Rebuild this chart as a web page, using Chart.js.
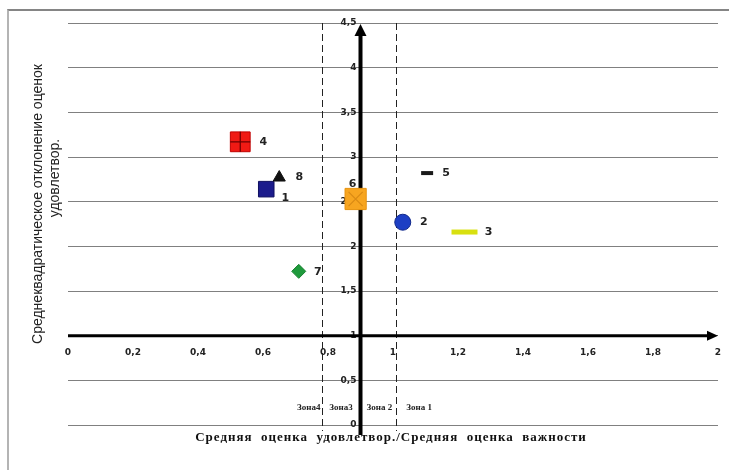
<!DOCTYPE html>
<html><head><meta charset="utf-8">
<script src="https://cdn.jsdelivr.net/npm/chart.js@4"></script>
<style>
html,body{margin:0;padding:0;background:#fff;}
#wrap{position:relative;width:729px;height:470px;overflow:hidden;background:#fff;}
#frame{position:absolute;left:7px;top:9px;width:760px;height:500px;border-left:2px solid #b4b4b4;border-top:2px solid #858585;}
canvas{position:absolute;left:0;top:0;}
</style></head><body>
<div id="wrap"><div id="frame"></div><canvas id="c" width="729" height="470"></canvas></div>
<script>
// ---- data ----
const pointLabels = ['1', '2', '3', '4', '5', '6', '7', '8'];
const xValues = [0.61, 1.03, 1.22, 0.53, 1.105, 0.885, 0.71, 0.65];
const yValues = [2.64, 2.27, 2.16, 3.17, 2.82, 2.53, 1.72, 2.77];
const zoneNames = ['Зона4', 'Зона3', 'Зона 2', 'Зона 1'];
const zoneBounds = [0.78, 1.01];
const axisCrossX = 0.9;
const axisCrossY = 1;
const xTitle = 'Средняя  оценка  удовлетвор./Средняя  оценка  важности';
const yTitleLines = ['Среднеквадратическое отклонение оценок', 'удовлетвор.'];

// ---- styles ----
const pStyle  = ['rect', 'circle', 'line', 'rect', 'line', 'rect', 'rectRot', 'triangle'];
const pRadius = [11, 8, 13, 14, 6, 15, 7, 7];
const pFill   = ['#1c1c8c', '#1d3fc4', '#e6ee20', '#f01a14', '#1a1a1a', '#f7a520', '#1f9a3c', '#111111'];
const pBorder = ['#101060', '#10288a', '#d8e010', '#c00000', '#1a1a1a', '#e89410', '#17802f', '#111111'];
const pBW     = [1, 1, 5, 1, 4, 1, 1, 1];
const labelOff = [[19, 9], [21, 0], [24, 0], [23, 0], [19, 0], [-3, -15], [19, 1], [20, 0]];
const overlayIdx = [3, 5];

const fmt = v => (Math.round(v * 10) / 10).toString().replace('.', ',');
const tickFont = 'bold 9px "DejaVu Sans"';

const drawPlugin = {
  id: 'decor',
  beforeDatasetsDraw(chart) {
    const {ctx, chartArea: a, scales: {x, y}} = chart;
    ctx.save();
    // dashed zone lines
    ctx.strokeStyle = '#222';
    ctx.lineWidth = 1;
    ctx.setLineDash([7, 4]);
    zoneBounds.forEach(b => {
      const px = Math.round(x.getPixelForValue(b)) + 0.5;
      ctx.beginPath(); ctx.moveTo(px, a.top); ctx.lineTo(px, a.bottom + 6); ctx.stroke();
    });
    ctx.setLineDash([]);
    const ay = y.getPixelForValue(axisCrossY);
    const ax = x.getPixelForValue(axisCrossX);
    // tick labels along the crossing axes
    ctx.font = tickFont; ctx.fillStyle = '#222';
    ctx.textAlign = 'center'; ctx.textBaseline = 'middle';
    x.ticks.forEach(t => ctx.fillText(fmt(t.value), x.getPixelForValue(t.value), ay + 17));
    ctx.textAlign = 'right';
    y.ticks.forEach(t => ctx.fillText(fmt(t.value), ax - 4, y.getPixelForValue(t.value)));
    // horizontal axis with arrow
    ctx.strokeStyle = '#000'; ctx.fillStyle = '#000';
    ctx.lineWidth = 3;
    ctx.beginPath(); ctx.moveTo(a.left, ay); ctx.lineTo(a.right - 8, ay); ctx.stroke();
    ctx.beginPath(); ctx.moveTo(a.right, ay); ctx.lineTo(a.right - 11, ay - 5); ctx.lineTo(a.right - 11, ay + 5); ctx.closePath(); ctx.fill();
    // vertical axis with arrow
    ctx.lineWidth = 4;
    ctx.beginPath(); ctx.moveTo(ax, a.bottom + 10); ctx.lineTo(ax, a.top + 10); ctx.stroke();
    ctx.beginPath(); ctx.moveTo(ax, a.top + 1); ctx.lineTo(ax - 6, a.top + 13); ctx.lineTo(ax + 6, a.top + 13); ctx.closePath(); ctx.fill();
    ctx.restore();
  },
  afterDatasetsDraw(chart) {
    const {ctx, chartArea: a, scales: {x, y}} = chart;
    ctx.save();
    // point labels
    ctx.font = 'bold 11px "DejaVu Sans"';
    ctx.fillStyle = '#222';
    ctx.textAlign = 'center'; ctx.textBaseline = 'middle';
    pointLabels.forEach((l, i) => {
      ctx.fillText(l, x.getPixelForValue(xValues[i]) + labelOff[i][0], y.getPixelForValue(yValues[i]) + labelOff[i][1]);
    });
    // zone labels
    ctx.font = 'bold 9px "Liberation Serif"';
    ctx.fillStyle = '#222';
    const b0 = x.getPixelForValue(zoneBounds[0]), b1 = x.getPixelForValue(zoneBounds[1]);
    const ax = x.getPixelForValue(axisCrossX);
    const zy = a.bottom - 17;
    ctx.textAlign = 'right'; ctx.fillText(zoneNames[0], b0 - 1, zy);
    ctx.textAlign = 'center'; ctx.fillText(zoneNames[1], (b0 + ax) / 2, zy);
    ctx.fillText(zoneNames[2], (ax + b1) / 2 + 1, zy);
    ctx.textAlign = 'left'; ctx.fillText(zoneNames[3], b1 + 10, zy);
    // x title
    ctx.font = 'bold 13px "Liberation Serif"';
    ctx.fillStyle = '#111';
    ctx.textAlign = 'center';
    try { ctx.letterSpacing = '1px'; } catch (e) {}
    ctx.fillText(xTitle, 391, a.bottom + 13);
    try { ctx.letterSpacing = '0px'; } catch (e) {}
    // y title
    ctx.font = '14px "Liberation Sans"';
    ctx.fillStyle = '#222';
    ctx.translate(38, 204); ctx.rotate(-Math.PI / 2);
    ctx.fillText(yTitleLines[0], 0, 0);
    ctx.rotate(Math.PI / 2); ctx.translate(17, -26); ctx.rotate(-Math.PI / 2);
    ctx.fillText(yTitleLines[1], 0, 0);
    ctx.restore();
  }
};

const pts = xValues.map((v, i) => ({x: v, y: yValues[i]}));

new Chart(document.getElementById('c'), {
  type: 'scatter',
  data: {
    datasets: [
      {
        data: overlayIdx.map(i => pts[i]),
        pointStyle: ['cross', 'crossRot'], pointRadius: [10, 10],
        backgroundColor: 'transparent', borderColor: ['#6a0000', '#d98a14'], borderWidth: [1.2, 1.2]
      },
      {
        data: pts,
        pointStyle: pStyle, pointRadius: pRadius,
        backgroundColor: pFill, borderColor: pBorder, borderWidth: pBW
      }
    ]
  },
  options: {
    responsive: false, animation: false, devicePixelRatio: 1,
    layout: {autoPadding: false, padding: {left: 68, right: 11, top: 23, bottom: 45}},
    plugins: {legend: {display: false}, tooltip: {enabled: false}},
    scales: {
      x: {
        type: 'linear', min: 0, max: 2, position: 'bottom',
        grid: {display: false, drawTicks: false}, border: {display: false},
        ticks: {stepSize: 0.2, display: false}
      },
      y: {
        type: 'linear', min: 0, max: 4.5, position: 'left',
        grid: {color: '#808080', lineWidth: 1, drawTicks: false}, border: {display: false},
        ticks: {stepSize: 0.5, display: false}
      }
    }
  },
  plugins: [drawPlugin]
});
</script>
</body></html>
